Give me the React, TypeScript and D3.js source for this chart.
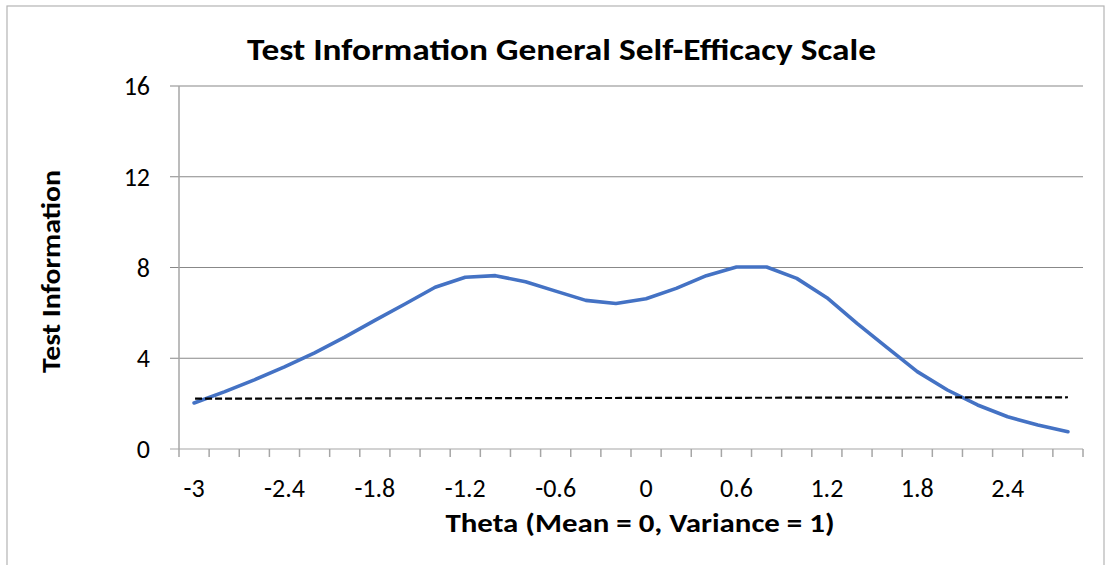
import React from "react";
import * as d3 from "d3";

const categories = [
  "-3", "-2.8", "-2.6", "-2.4", "-2.2", "-2", "-1.8", "-1.6", "-1.4", "-1.2",
  "-1", "-0.8", "-0.6", "-0.4", "-0.2", "0", "0.2", "0.4", "0.6", "0.8",
  "1", "1.2", "1.4", "1.6", "1.8", "2", "2.2", "2.4", "2.6", "2.8",
];
const tickLabels = ["-3", "-2.4", "-1.8", "-1.2", "-0.6", "0", "0.6", "1.2", "1.8", "2.4"];
const information = [
  2.03, 2.52, 3.05, 3.62, 4.24, 4.93, 5.67, 6.39, 7.13, 7.57,
  7.64, 7.37, 6.96, 6.55, 6.41, 6.62, 7.08, 7.64, 8.02, 8.02,
  7.52, 6.67, 5.54, 4.47, 3.41, 2.6, 1.94, 1.42, 1.06, 0.76,
];
const cutoffCategories = ["-3", "2.8"];
const cutoffValues = [2.22, 2.28];
const yTicks = [0, 4, 8, 12, 16];

const FONT = "Carlito, Calibri, 'Liberation Sans', Arial, sans-serif";

export default function App() {
  const W = 1106;
  const H = 565;
  const left = 179;
  const right = 1083;
  const top = 86;
  const bottom = 449;

  const x = d3.scaleBand<string>().domain(categories).range([left, right]).padding(0);
  const cx = (c: string) => (x(c) as number) + x.bandwidth() / 2;
  const y = d3.scaleLinear().domain([0, 16]).range([bottom, top]);

  const line = d3
    .line<number>()
    .x((_, i) => cx(categories[i]))
    .y((d) => y(d));
  const cutLine = d3
    .line<number>()
    .x((_, i) => cx(cutoffCategories[i]))
    .y((d) => y(d));

  const tickXs = categories.map((c) => x(c) as number).concat([right]);

  return (
    <svg
      width={W}
      height={H}
      style={{ position: "absolute", left: 0, top: 0, background: "#fff" }}
      fontFamily={FONT}
    >
      <rect x={7} y={6} width={1097} height={562} fill="#fff" stroke="#b4b4b4" strokeWidth={1.2} />
      <text
        x={561.5}
        y={60}
        textAnchor="middle"
        fontWeight="bold"
        fontSize={31}
        textLength={629}
        lengthAdjust="spacingAndGlyphs"
        fill="#000"
      >
        Test Information General Self-Efficacy Scale
      </text>

      {yTicks.map((t) => (
        <g key={t}>
          <line
            x1={left - 9}
            x2={right}
            y1={y(t)}
            y2={y(t)}
            stroke={t === 0 ? "#a6a6a6" : "#888"}
            strokeWidth={1.2}
          />
          <text x={150} y={y(t) + 9} textAnchor="end" fontSize={26} fill="#000">
            {t}
          </text>
        </g>
      ))}
      <line x1={left} x2={left} y1={top} y2={bottom} stroke="#a6a6a6" strokeWidth={1.5} />
      {tickXs.map((tx, i) => (
        <line key={i} x1={tx} x2={tx} y1={bottom} y2={bottom + 8} stroke="#a6a6a6" strokeWidth={1.5} />
      ))}
      {tickLabels.map((lab) => (
        <text key={lab} x={cx(lab)} y={497} textAnchor="middle" fontSize={26} fill="#000">
          {lab}
        </text>
      ))}

      <path d={line(information) || ""} fill="none" stroke="#4472C4" strokeWidth={3.6} strokeLinejoin="round" strokeLinecap="round" />
      <path d={cutLine(cutoffValues) || ""} fill="none" stroke="#000" strokeWidth={2.2} strokeDasharray="7,3" strokeDashoffset={-1} />

      <text
        x={640}
        y={532}
        textAnchor="middle"
        fontWeight="bold"
        fontSize={26}
        textLength={389}
        lengthAdjust="spacingAndGlyphs"
        fill="#000"
      >
        Theta (Mean = 0, Variance = 1)
      </text>
      <text
        transform="translate(60,271.5) rotate(-90)"
        textAnchor="middle"
        fontWeight="bold"
        fontSize={26}
        textLength={203}
        lengthAdjust="spacingAndGlyphs"
        fill="#000"
      >
        Test Information
      </text>
    </svg>
  );
}
